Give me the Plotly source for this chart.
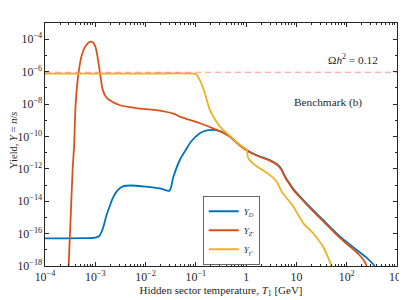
import plotly.graph_objects as go

# ---- data (values are T [GeV] and yield Y) ----
T_D = [1e-4, 6.3e-4, 1.0e-3, 1.2e-3, 1.41e-3, 1.66e-3, 1.91e-3, 2.24e-3, 2.82e-3, 3.55e-3,
       5.0e-3, 1.0e-2, 2.0e-2, 3.0e-2, 3.55e-2, 4.8e-2, 6.3e-2, 7.9e-2, 0.12, 0.158, 0.22,
       0.32, 0.4, 0.48, 0.74, 1.02, 1.6, 2.5, 2.95, 4.07, 5.0, 5.9, 7.1, 8.7, 11.7, 15.8,
       33.9, 74, 158, 251, 363]
Y_D = [5.1e-17, 5.2e-17, 5.6e-17, 7.1e-17, 2.0e-16, 1.26e-15, 4.4e-15, 1.6e-14, 5.0e-14, 8.3e-14,
       9.3e-14, 7.9e-14, 6.0e-14, 4.5e-14, 3.0e-13, 3.5e-12, 1.45e-11, 4.5e-11, 1.55e-10, 2.24e-10, 2.5e-10,
       2.0e-10, 1.41e-10, 9.5e-11, 2.95e-11, 1.45e-11, 7.1e-12, 4.3e-12, 3.5e-12, 2.0e-12, 1.0e-12, 3.5e-13, 1.41e-13, 5.6e-14, 2.0e-14, 7.4e-15,
       6.9e-16, 6.5e-17, 9.8e-18, 3.2e-18, 1.0e-18]

T_Z = [2.95e-4, 3.24e-4, 3.55e-4, 3.8e-4, 4.07e-4, 4.68e-4, 5.37e-4, 6.3e-4, 7.4e-4, 8.3e-4,
       9.5e-4, 1.05e-3, 1.23e-3, 1.41e-3, 1.66e-3, 1.91e-3, 3.0e-3, 7.1e-3, 1.51e-2, 3.8e-2,
       4.8e-2, 0.12, 0.22, 0.35, 0.48, 0.74, 1.02, 1.6, 2.5, 2.95, 4.07, 5.0, 5.9, 7.1, 8.7,
       11.7, 15.8, 33.9, 74, 158, 214, 251]
Y_Z = [1.0e-18, 1.0e-15, 1.0e-12, 3.0e-11, 1.0e-8, 1.0e-6, 1.0e-5, 3.5e-5, 6.3e-5, 7.0e-5,
       5.0e-5, 2.1e-5, 1.0e-6, 7.2e-8, 2.5e-8, 1.78e-8, 8.7e-9, 5.4e-9, 4.3e-9, 2.4e-9,
       1.66e-9, 6.5e-10, 3.16e-10, 1.66e-10, 9.5e-11, 2.8e-11, 1.35e-11, 6.6e-12, 4.0e-12, 3.2e-12, 1.8e-12, 9.0e-13, 3.1e-13, 1.25e-13, 4.9e-14,
       1.75e-14, 6.4e-15, 5.8e-16, 5.2e-17, 7.0e-18, 2.5e-18, 1.0e-18]

T_G = [1e-4, 1.0e-2, 7.9e-2, 0.1, 0.12, 0.151, 0.19, 0.257, 0.347, 0.48,
       0.74, 1.02, 1.1, 1.29, 1.86, 2.95, 4.07, 5.1, 8.7, 13.8, 21.4, 33.9,
       41.7, 50]
Y_G = [7.6e-7, 7.6e-7, 7.6e-7, 7.1e-7, 3.0e-7, 4.6e-8, 4.3e-9, 8.1e-10, 2.5e-10, 1.05e-10,
       3.16e-11, 1.45e-11, 4.5e-12, 2.5e-12, 1.07e-12, 4.2e-13, 1.58e-13, 3.9e-14, 4.6e-15, 4.3e-16, 1.05e-16, 1.55e-17,
       4.0e-18, 1.0e-18]

OMEGA_Y = 9.1e-7
X_RANGE = [1e-4, 1e3]

names = ["<i>Y</i><sub><i>D</i></sub>", "<i>Y</i><sub><i>Z'</i></sub>", "<i>Y</i><sub><i>γ'</i></sub>"]
colors = ["#0072BD", "#D95319", "#EDB120"]

fig = go.Figure()
for T, Y, nm, c in [(T_D, Y_D, names[0], colors[0]), (T_Z, Y_Z, names[1], colors[1]), (T_G, Y_G, names[2], colors[2])]:
    fig.add_trace(go.Scatter(x=T, y=Y, mode="lines", name=nm,
                             line=dict(color=c, width=1.8, shape="spline", smoothing=0.7)))

fig.add_trace(go.Scatter(x=X_RANGE, y=[OMEGA_Y, OMEGA_Y], mode="lines", showlegend=False,
                         line=dict(color="rgba(255,110,110,0.75)", width=1, dash="6px,4px")))

font_fam = "Liberation Serif, DejaVu Serif, serif"
axis_common = dict(type="log", showline=True, linecolor="#262626", linewidth=0.7, mirror="allticks",
                   ticks="inside", ticklen=4, tickcolor="#262626", exponentformat="power",
                   showexponent="all", showgrid=False, zeroline=False, automargin=False,
                   tickfont=dict(size=9.5, color="#262626", family=font_fam),
                   minor=dict(ticks="inside", ticklen=2, tickcolor="#262626", showgrid=False))

# page body has an 8px default margin, so the figure is offset by (8, 8) in the window
fig.update_layout(
    width=399, height=292,
    margin=dict(l=37, r=10, t=15, b=34),
    paper_bgcolor="white", plot_bgcolor="white",
    font=dict(family=font_fam, color="#262626"),
    xaxis=dict(axis_common, range=[-4, 3], dtick=1,
               title=dict(text="Hidden sector temperature, <i>T</i><sub>1</sub> [GeV]",
                          font=dict(size=11), standoff=2)),
    yaxis=dict(axis_common, range=[-18, -3], dtick=2),
    legend=dict(x=0.449, y=0.004, xanchor="left", yanchor="bottom",
                bgcolor="white", bordercolor="#262626", borderwidth=0.7,
                font=dict(size=9, family=font_fam), tracegroupgap=0, itemwidth=30),
    showlegend=True,
)

# y-axis title placed as rotated text left of the tick labels
fig.add_annotation(x=-0.088, y=0.515, xref="paper", yref="paper", xanchor="center", yanchor="middle",
                   text="Yield, <i>Y</i> = <i>n</i>/<i>s</i>", textangle=-90,
                   showarrow=False, font=dict(size=10.5, color="#262626"))
fig.add_annotation(x=0.874, y=0.85, xref="paper", yref="paper", xanchor="center", yanchor="middle",
                   text="Ω<i>h</i><sup>2</sup> = 0.12",
                   showarrow=False, font=dict(size=11.3, color="#262626"))
fig.add_annotation(x=0.805, y=0.671, xref="paper", yref="paper", xanchor="center", yanchor="middle",
                   text="Benchmark (b)",
                   showarrow=False, font=dict(size=11.3, color="#262626"))

fig.write_html("out.html")
